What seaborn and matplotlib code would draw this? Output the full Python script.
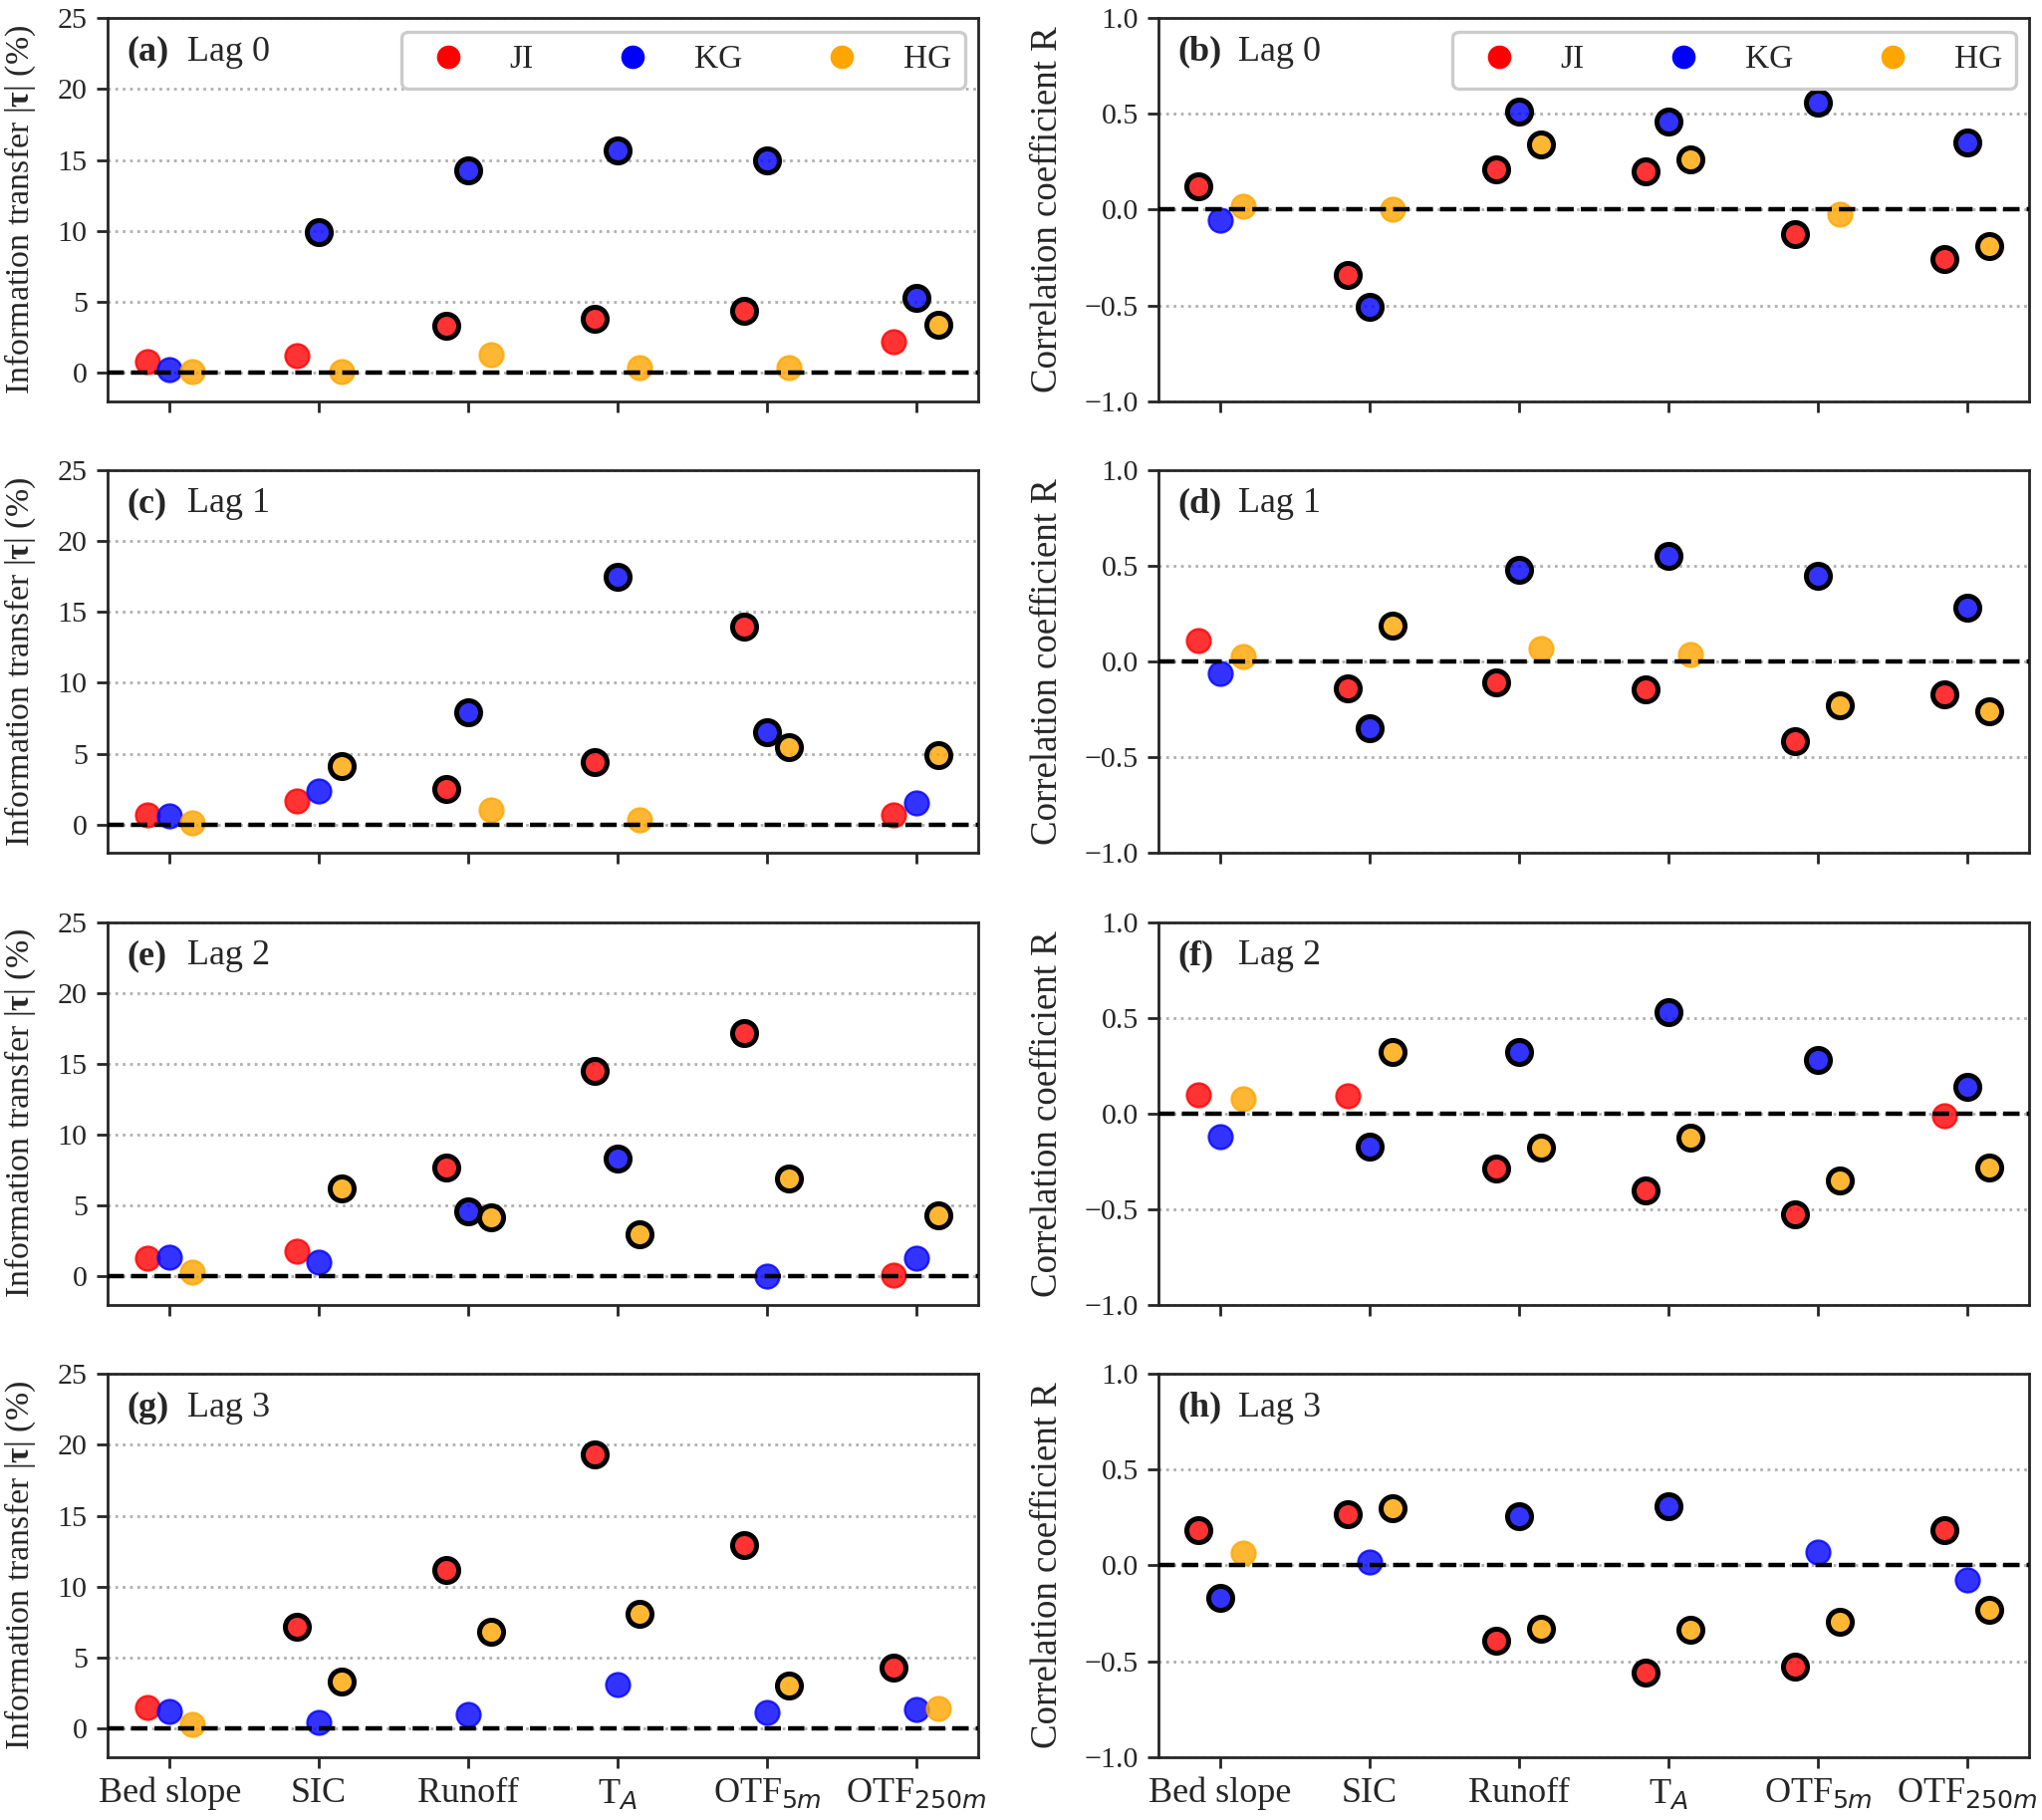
import numpy as np
import pandas as pd
import matplotlib
matplotlib.use('Agg')
import matplotlib.pyplot as plt
import seaborn as sns
from matplotlib.lines import Line2D
from matplotlib.colors import to_rgba

drivers = ['Bed slope', 'SIC', 'Runoff', 'T$_A$', 'OTF$_{5m}$', 'OTF$_{250m}$']
glaciers = ['JI', 'KG', 'HG']
colors = {'JI': 'red', 'KG': 'blue', 'HG': 'orange'}
lags = [0, 1, 2, 3]
panel_te = ['(a)', '(c)', '(e)', '(g)']
panel_r = ['(b)', '(d)', '(f)', '(h)']

# information transfer |tau| (%), one row per lag
te_ji = [[0.8, 1.2, 3.3, 3.8, 4.4, 2.2],
         [0.7, 1.65, 2.5, 4.4, 14.0, 0.7],
         [1.3, 1.8, 7.7, 14.5, 17.2, 0.1],
         [1.5, 7.2, 11.2, 19.3, 12.9, 4.3]]
te_kg = [[0.2, 9.9, 14.3, 15.7, 15.0, 5.3],
         [0.6, 2.4, 7.9, 17.5, 6.5, 1.5],
         [1.37, 1.0, 4.6, 8.3, 0.05, 1.3],
         [1.2, 0.46, 1.0, 3.1, 1.16, 1.35]]
te_hg = [[0.1, 0.1, 1.3, 0.4, 0.4, 3.4],
         [0.15, 4.1, 1.07, 0.37, 5.5, 4.9],
         [0.33, 6.2, 4.2, 3.0, 6.9, 4.3],
         [0.3, 3.3, 6.8, 8.1, 3.0, 1.4]]
# 1 = significant (black edge), 0 = not
te_ji_sig = [[0, 0, 1, 1, 1, 0], [0, 0, 1, 1, 1, 0], [0, 0, 1, 1, 1, 0], [0, 1, 1, 1, 1, 1]]
te_kg_sig = [[0, 1, 1, 1, 1, 1], [0, 0, 1, 1, 1, 0], [0, 0, 1, 1, 0, 0], [0, 0, 0, 0, 0, 0]]
te_hg_sig = [[0, 0, 0, 0, 0, 1], [0, 1, 0, 0, 1, 1], [0, 1, 1, 1, 1, 1], [0, 1, 1, 1, 1, 0]]

# correlation coefficient R, one row per lag
r_ji = [[0.12, -0.34, 0.21, 0.20, -0.13, -0.26],
        [0.11, -0.14, -0.11, -0.144, -0.415, -0.17],
        [0.10, 0.09, -0.29, -0.40, -0.527, -0.01],
        [0.185, 0.27, -0.395, -0.56, -0.53, 0.185]]
r_kg = [[-0.055, -0.505, 0.51, 0.46, 0.56, 0.35],
        [-0.06, -0.35, 0.48, 0.55, 0.45, 0.28],
        [-0.12, -0.175, 0.32, 0.53, 0.28, 0.14],
        [-0.17, 0.017, 0.256, 0.31, 0.072, -0.077]]
r_hg = [[0.02, 0.005, 0.34, 0.26, -0.025, -0.19],
        [0.027, 0.19, 0.07, 0.036, -0.23, -0.26],
        [0.077, 0.32, -0.18, -0.127, -0.35, -0.28],
        [0.064, 0.30, -0.33, -0.335, -0.295, -0.23]]
r_ji_sig = [[1, 1, 1, 1, 1, 1], [0, 1, 1, 1, 1, 1], [0, 0, 1, 1, 1, 0], [1, 1, 1, 1, 1, 1]]
r_kg_sig = [[0, 1, 1, 1, 1, 1], [0, 1, 1, 1, 1, 1], [0, 1, 1, 1, 1, 1], [1, 0, 1, 1, 0, 0]]
r_hg_sig = [[0, 0, 1, 1, 0, 1], [0, 1, 0, 0, 1, 1], [0, 1, 1, 1, 1, 1], [0, 1, 1, 1, 1, 1]]

offsets = {'JI': -0.15, 'KG': 0.0, 'HG': 0.15}


def to_long(vals, sigs, kind):
    rows = []
    for g in glaciers:
        for lag in lags:
            for k in range(len(drivers)):
                rows.append({'kind': kind, 'glacier': g, 'lag': lag,
                             'x': k + offsets[g], 'value': vals[g][lag][k],
                             'sig': sigs[g][lag][k]})
    return rows


df = pd.DataFrame(
    to_long({'JI': te_ji, 'KG': te_kg, 'HG': te_hg},
            {'JI': te_ji_sig, 'KG': te_kg_sig, 'HG': te_hg_sig}, 'te')
    + to_long({'JI': r_ji, 'KG': r_kg, 'HG': r_hg},
              {'JI': r_ji_sig, 'KG': r_kg_sig, 'HG': r_hg_sig}, 'r'))

sns.set_style('ticks')
plt.rcParams['font.family'] = ['Liberation Serif', 'DejaVu Serif']
plt.rcParams['mathtext.fontset'] = 'custom'
plt.rcParams['mathtext.rm'] = 'DejaVu Sans'
plt.rcParams['mathtext.it'] = 'DejaVu Sans:italic'
plt.rcParams['mathtext.bf'] = 'Liberation Serif:bold'
plt.rcParams['axes.linewidth'] = 1.0
plt.rcParams['xtick.major.width'] = 1.0
plt.rcParams['ytick.major.width'] = 1.0
plt.rcParams['xtick.major.size'] = 3.8
plt.rcParams['ytick.major.size'] = 3.8

fig = plt.figure(figsize=(10.25, 9.135), dpi=200)
bottoms = [0.7796, 0.5313, 0.2830, 0.0347]
h = 0.2104
w = 0.4263
lefts = [0.0527, 0.5673]


def draw(ax, kind, lag):
    d = df[(df.kind == kind) & (df.lag == lag)]
    ax.set_axisbelow(True)
    ax.yaxis.grid(True, ls=':', color='#b0b0b0', lw=1.0)
    ax.xaxis.grid(False)
    for g in glaciers:
        sub = d[d.glacier == g]
        ns = sub[sub.sig == 0]
        sg = sub[sub.sig == 1]
        if len(ns):
            sns.scatterplot(data=ns, x='x', y='value', color=colors[g], alpha=0.8,
                            edgecolor=colors[g], linewidth=0.8, s=75, ax=ax,
                            legend=False, zorder=3)
        if len(sg):
            sns.scatterplot(data=sg, x='x', y='value', color=to_rgba(colors[g], 0.8),
                            edgecolor='black', linewidth=1.8, s=75, ax=ax,
                            legend=False, zorder=4)
    ax.axhline(0, color='black', ls='--', lw=1.6, zorder=3.5)
    ax.set_xlim(-0.415, 5.415)
    ax.set_xticks(range(len(drivers)))
    ax.set_xlabel('')
    ax.tick_params(axis='both', direction='out')
    ax.tick_params(axis='y', labelsize=10.8)
    ax.tick_params(axis='x', labelsize=13)
    if kind == 'te':
        ax.set_ylim(-2, 25)
        ax.set_yticks([0, 5, 10, 15, 20, 25])
        ax.set_ylabel(r'Information transfer |$\mathbf{\tau}$| (%)', fontsize=12.2)
        ax.yaxis.set_label_coords(-0.08, 0.5)
    else:
        ax.set_ylim(-1, 1)
        ax.set_yticks([-1.0, -0.5, 0.0, 0.5, 1.0])
        ax.set_ylabel('Correlation coefficient R', fontsize=13.3)
        ax.yaxis.set_label_coords(-0.108, 0.5)
    if lag == lags[-1]:
        ax.set_xticklabels(drivers)
    else:
        ax.set_xticklabels([])


for i, lag in enumerate(lags):
    ax_te = fig.add_axes([lefts[0], bottoms[i], w, h])
    ax_r = fig.add_axes([lefts[1], bottoms[i], w, h])
    draw(ax_te, 'te', lag)
    draw(ax_r, 'r', lag)
    for ax, lab in [(ax_te, panel_te[i]), (ax_r, panel_r[i])]:
        ax.text(0.022, 0.912, lab, transform=ax.transAxes, fontsize=13,
                fontweight='bold', va='center')
        ax.text(0.092, 0.912, f'Lag {lag}', transform=ax.transAxes, fontsize=13,
                va='center')
    if i == 0:
        for ax in (ax_te, ax_r):
            handles = [Line2D([], [], ls='', marker='o', markersize=8.5,
                              markerfacecolor=colors[g], markeredgewidth=0, label=g)
                       for g in glaciers]
            leg = ax.legend(handles=handles, loc='upper right', ncol=3, fontsize=12,
                            handletextpad=0.85, columnspacing=2.0,
                            borderaxespad=0.4, framealpha=1)
            leg.get_frame().set_edgecolor('#cccccc')
            leg.get_frame().set_linewidth(1.2)

fig.savefig('out.png', dpi=200)
